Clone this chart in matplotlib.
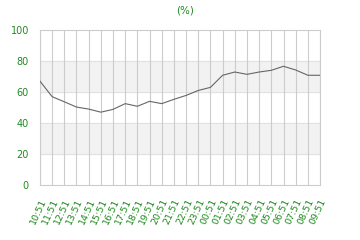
import matplotlib
matplotlib.use("Agg")
import matplotlib.pyplot as plt

# 시간대 라벨 / 값 (%)
hours = ["10:51", "11:51", "12:51", "13:51", "14:51", "15:51", "16:51", "17:51",
         "18:51", "19:51", "20:51", "21:51", "22:51", "23:51", "00:51", "01:51",
         "02:51", "03:51", "04:51", "05:51", "06:51", "07:51", "08:51", "09:51"]
values = [67, 57, 53.7, 50.3, 49, 47, 48.8, 52.5, 50.8, 54, 52.5, 55.3,
          57.8, 61, 63, 70.8, 72.9, 71.4, 72.9, 74, 76.6, 74.2, 70.8, 70.8]
y_ticks = [0, 20, 40, 60, 80, 100]

green = "#208a20"

fig = plt.figure(figsize=(3.6, 2.4), dpi=100)
ax = fig.add_axes([0.111, 0.229, 0.778, 0.646])

x = list(range(len(hours)))
# 배경 띠
ax.axhspan(20, 40, color="#f2f2f2", zorder=0)
ax.axhspan(60, 80, color="#f2f2f2", zorder=0)
for y in y_ticks[1:-1]:
    ax.axhline(y, color="#e2e2e2", lw=0.8, zorder=1)
for xi in x:
    ax.axvline(xi, color="#cccccc", lw=0.8, zorder=1)

ax.plot(x, values, color="#666666", lw=0.8, zorder=3)

ax.set_xlim(0, len(hours) - 1)
ax.set_ylim(0, 100)
ax.set_yticks(y_ticks)
ax.set_yticklabels([str(v) for v in y_ticks], color=green, fontsize=7)
ax.set_xticks(x)
ax.set_xticklabels(hours, rotation=65, ha="right", rotation_mode="anchor",
                   color=green, fontsize=6.8)
ax.tick_params(length=0, pad=8)
ax.tick_params(axis="x", pad=9)
for s in ax.spines.values():
    s.set_color("#cccccc")
    s.set_linewidth(0.8)

fig.text(0.514, 0.955, "(%)", color=green, fontsize=7.5, ha="center", va="center")

fig.savefig("out.png", dpi=100)
